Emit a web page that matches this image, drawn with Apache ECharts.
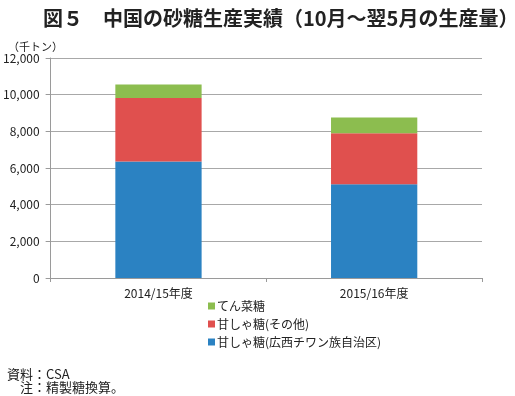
<!DOCTYPE html>
<html><head><meta charset="utf-8">
<script src="https://cdn.jsdelivr.net/npm/echarts@6/dist/echarts.min.js"></script>
<style>html,body{margin:0;padding:0;background:#fff}#c{width:515px;height:396px}</style>
</head><body><div id="c"></div>
<script>
const categories = ['2014/15年度', '2015/16年度'];
const caneGuangxi = [6360, 5120];
const caneOther = [3460, 2770];
const beet = [740, 860];
const seriesNames = ['甘しゃ糖(広西チワン族自治区)', '甘しゃ糖(その他)', 'てん菜糖'];
const yTicks = [0, 2000, 4000, 6000, 8000, 10000, 12000];

const font = '"Noto Sans CJK JP", "Noto Sans", sans-serif';
const chart = echarts.init(document.getElementById('c'));
const colors = ['#2b82c2', '#e0504e', '#8cbd4f'];
chart.setOption({
  animation: false,
  textStyle: { fontFamily: font },
  title: [
    { text: '図５　中国の砂糖生産実績（10月～翌5月の生産量）', left: 38, top: 3,
      textStyle: { fontSize: 20, fontWeight: 'bold', color: '#222', fontFamily: font } },
    { text: '（千トン）', left: 3, top: 36, textStyle: { fontSize: 11, fontWeight: 'normal', color: '#222', fontFamily: font } },
    { text: '資料：CSA', left: 2, top: 363, textStyle: { fontSize: 13, fontWeight: 'normal', color: '#222', fontFamily: font } },
    { text: '　注：精製糖換算。', left: 2, top: 376, textStyle: { fontSize: 13, fontWeight: 'normal', color: '#222', fontFamily: font } }
  ],
  legend: {
    orient: 'vertical', left: 203, top: 295, itemWidth: 7, itemHeight: 7, itemGap: 6,
    icon: 'rect',
    data: [seriesNames[2], seriesNames[1], seriesNames[0]].map(n => ({ name: n })),
    textStyle: { fontSize: 12, color: '#222', fontFamily: font, padding: [0, 0, 0, -3] }
  },
  grid: { left: 48, right: 33, top: 58, bottom: 118 },
  xAxis: {
    type: 'category', data: categories,
    axisLine: { lineStyle: { color: '#9a9a9a' } },
    axisTick: { show: true, length: 4, lineStyle: { color: '#9a9a9a' } },
    axisLabel: { fontSize: 12, color: '#222', margin: 9 }
  },
  yAxis: {
    type: 'value', min: yTicks[0], max: yTicks[yTicks.length - 1], interval: 2000,
    axisLine: { show: true, lineStyle: { color: '#9a9a9a' } },
    axisTick: { show: true, length: 5, lineStyle: { color: '#9a9a9a' } },
    splitLine: { lineStyle: { color: '#a8a8a8' } },
    axisLabel: { fontSize: 12, color: '#222', margin: 11,
      formatter: v => v.toLocaleString('en-US') }
  },
  series: [
    { name: seriesNames[0], type: 'bar', stack: 't', data: caneGuangxi, barWidth: '40%', itemStyle: { color: colors[0] } },
    { name: seriesNames[1], type: 'bar', stack: 't', data: caneOther, itemStyle: { color: colors[1] } },
    { name: seriesNames[2], type: 'bar', stack: 't', data: beet, itemStyle: { color: colors[2] } }
  ]
});
</script></body></html>
